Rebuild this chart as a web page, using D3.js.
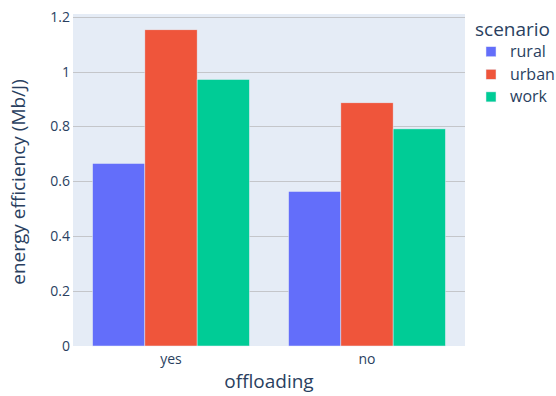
<!DOCTYPE html>
<html>
<head>
<meta charset="utf-8">
<script src="https://cdn.jsdelivr.net/npm/d3@7/dist/d3.min.js"></script>
<style>
  html, body { margin: 0; padding: 0; background: #fff; }
  svg { display: block; font-family: "Open Sans", verdana, arial, sans-serif; }
</style>
</head>
<body>
<div id="chart"></div>
<script>
// Energy efficiency by offloading mode and scenario
const categories = ["yes", "no"];
const scenarios = ["rural", "urban", "work"];
const rural = [0.665, 0.563];
const urban = [1.152, 0.886];
const work = [0.971, 0.791];
const yTicks = [0, 0.2, 0.4, 0.6, 0.8, 1, 1.2];
const colors = ["#636efa", "#EF553B", "#00cc96"];

const seriesValues = { rural, urban, work };

const W = 556, H = 396;
const margin = { left: 73, right: 91, top: 14, bottom: 50 };
const plotW = W - margin.left - margin.right;
const plotH = H - margin.top - margin.bottom;

const svg = d3.select("#chart").append("svg")
  .attr("width", W).attr("height", H);

const maxVal = d3.max(scenarios.flatMap(s => seriesValues[s]));
const y = d3.scaleLinear().domain([0, maxVal * 1.05]).range([margin.top + plotH, margin.top]);
const x0 = d3.scaleBand().domain(categories).range([margin.left, margin.left + plotW]).paddingInner(0.2).paddingOuter(0.1);
const x1 = d3.scaleBand().domain(scenarios).range([0, x0.bandwidth()]).padding(0);

// plot background
svg.append("rect")
  .attr("x", margin.left).attr("y", margin.top)
  .attr("width", plotW).attr("height", plotH)
  .attr("fill", "#E5ECF6");

// y grid and tick labels
const yAxis = d3.axisLeft(y).tickValues(yTicks).tickSize(-plotW).tickPadding(3)
  .tickFormat(d => d === 0 ? "0" : (d === 1 ? "1" : d3.format(".1f")(d)));
const gy = svg.append("g")
  .attr("transform", `translate(${margin.left},0)`)
  .call(yAxis);
gy.select(".domain").remove();
gy.selectAll(".tick line")
  .attr("stroke", d => d === 0 ? "#ffffff" : "#c4c6ca")
  .attr("stroke-width", d => d === 0 ? 2 : 1)
  .attr("shape-rendering", "crispEdges");
gy.selectAll(".tick text")
  .attr("fill", "#2a3f5f").attr("font-size", 14)
  .attr("font-family", "'Open Sans', verdana, arial, sans-serif");

// bars
const groups = svg.append("g").selectAll("g")
  .data(categories)
  .join("g")
  .attr("transform", d => `translate(${x0(d)},0)`);

groups.selectAll("rect")
  .data((c, i) => scenarios.map((s, k) => ({ s, v: seriesValues[s][i], color: colors[k] })))
  .join("rect")
  .attr("x", d => x1(d.s))
  .attr("y", d => y(d.v))
  .attr("width", x1.bandwidth())
  .attr("height", d => y(0) - y(d.v))
  .attr("fill", d => d.color)
  .attr("stroke", "#E5ECF6")
  .attr("stroke-width", 0.5);

// x axis labels
const xAxis = d3.axisBottom(x0).tickSize(0).tickPadding(8);
const gx = svg.append("g")
  .attr("transform", `translate(0,${margin.top + plotH})`)
  .call(xAxis);
gx.select(".domain").remove();
gx.selectAll(".tick text")
  .attr("fill", "#2a3f5f").attr("font-size", 14)
  .attr("font-family", "'Open Sans', verdana, arial, sans-serif");

// axis titles
svg.append("text")
  .attr("x", margin.left + plotW / 2).attr("y", 388)
  .attr("text-anchor", "middle")
  .attr("fill", "#2a3f5f").attr("font-size", 19)
  .text("offloading");

svg.append("text")
  .attr("transform", `translate(25,${margin.top + plotH / 2 + 2}) rotate(-90)`)
  .attr("text-anchor", "middle")
  .attr("fill", "#2a3f5f").attr("font-size", 19)
  .text("energy efficiency (Mb/J)");

// legend
const legend = svg.append("g").attr("transform", "translate(475,0)");
legend.append("text")
  .attr("x", 0).attr("y", 36)
  .attr("fill", "#2a3f5f").attr("font-size", 19)
  .text("scenario");
const items = legend.selectAll("g.item")
  .data(scenarios)
  .join("g")
  .attr("class", "item")
  .attr("transform", (d, i) => `translate(0,${51.7 + i * 22.6})`);
items.append("rect")
  .attr("x", 11).attr("y", -5).attr("width", 10).attr("height", 10)
  .attr("fill", (d, i) => colors[i])
  .attr("stroke", "#E5ECF6").attr("stroke-width", 0.5);
items.append("text")
  .attr("x", 35).attr("y", 5.5)
  .attr("fill", "#2a3f5f").attr("font-size", 16)
  .text(d => d);
</script>
</body>
</html>
